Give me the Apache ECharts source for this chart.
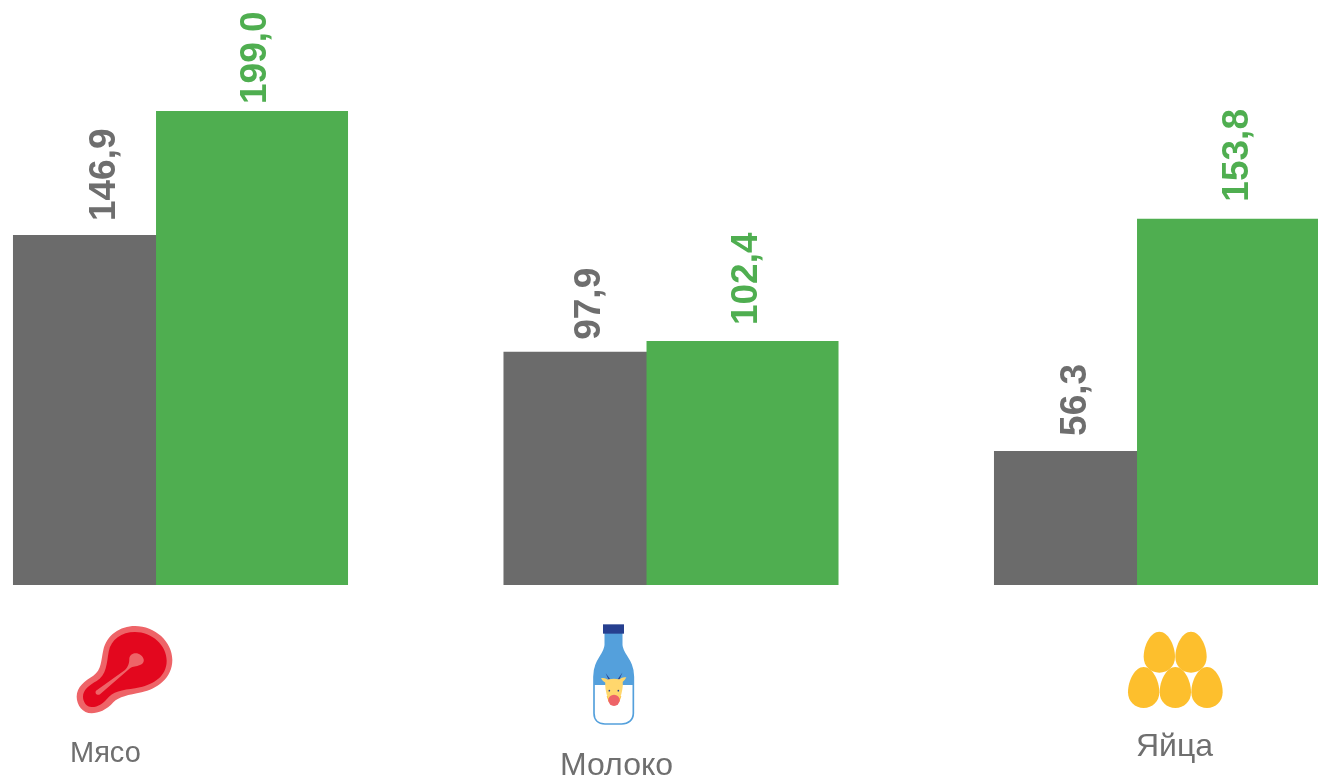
<!DOCTYPE html>
<html><head><meta charset="utf-8">
<style>html,body{margin:0;padding:0;background:#fff;overflow:hidden}#c{width:1318px;height:777px}</style>
<script src="https://cdn.jsdelivr.net/npm/echarts@6/dist/echarts.min.js"></script>
</head><body><div id="c"></div>
<script>
const categories = ['Мясо', 'Молоко', 'Яйца'];
const seriesGray = [146.9, 97.9, 56.3];
const seriesGreen = [199.0, 102.4, 153.8];
const GRAY = '#6b6b6b', GREEN = '#4fae50', TEXT = '#6f6f6f';
const FONT = '"Liberation Sans", Arial, sans-serif';
const catLabels = [
  {x: 70, y: 754, size: 29},
  {x: 560, y: 766, size: 32},
  {x: 1136, y: 747, size: 32}
];
const grayOffsets = [[14,-4.5],[12,-9.5],[15,-14.5]];
const greenOffsets = [[7,3.5],[16,4],[17,4.5]];
const fmt = p => p.value.toFixed(1).replace('.', ',');
const lbl = (color) => ({
  show: true, position: 'top', rotate: 90, align: 'left', verticalAlign: 'middle',
  distance: 0, formatter: fmt, color, fontFamily: FONT, fontWeight: 'bold', fontSize: 37
});
const eggs = [[208,185],[303,185],[161,291],[256,291],[351,291]];
const EGG = 'M0 0C26 0 47 40 47 76C47 104 26 123 0 123C-26 123 -47 104 -47 76C-47 40 -26 0 0 0Z';
let shapeCount = 0;
function path(d, style, extra){
  const name = 'iconShape' + (shapeCount++);
  echarts.graphic.registerShape(name, echarts.graphic.extendPath(d, {}));
  return Object.assign({type:name, style}, extra || {});
}
const graphics = [
  {type:'group', x:50, y:570, scaleX:1/3, scaleY:1/3, silent:true, children:[
    path('M255 168C315 168 367 215 367 270C367 325 320 357 275 367C235 375 207 380 190 397C170 420 145 430 125 430C98 430 80 405 80 380C80 350 105 332 130 317C155 300 153 270 160 240C170 195 210 168 255 168Z',{fill:'#ee6468'}),
    path('M255 186C305 186 350 225 350 272C350 320 310 342 270 352C230 360 197 360 177 380C160 400 145 411 125 411C110 411 99 396 99 380C99 360 118 345 140 333C170 315 170 280 176 245C183 208 215 186 255 186Z',{fill:'#e3071e'}),
    path('M238 265C240 250 260 245 272 255C285 265 285 280 270 285C258 290 250 288 240 295L150 373C143 378 133 370 138 362L225 300C235 290 238 280 238 265Z',{fill:'#ee6468'})
  ]},
  {type:'group', x:540, y:570, scaleX:1/3, scaleY:1/3, silent:true, children:[
    path('M196 191L245 191L245 225C247 255 280 270 280 320L280 430C280 450 265 462 245 462L195 462C175 462 162 450 162 430L162 320C162 270 194 255 196 225Z',{fill:'#fff',stroke:'#54a0dc',lineWidth:5}),
    path('M196 191L245 191L245 225C247 255 280 270 280 320L280 345L162 345L162 320C162 270 194 255 196 225Z',{fill:'#54a0dc'}),
    path('M189 163L252 163L252 191L189 191Z',{fill:'#263f8f'}),
    path('M197 310L214 332L208 334Z',{fill:'#263f8f'}),
    path('M247 308L236 334L230 332Z',{fill:'#263f8f'}),
    path('M183 325C192 322 200 326 206 332L200 340C194 338 188 334 183 325Z',{fill:'#ffd76d'}),
    path('M259 322C250 320 242 324 236 330L242 339C248 337 254 332 259 322Z',{fill:'#ffd76d'}),
    path('M200 378L244 378L238 396L206 396Z',{fill:'#fdbb30'}),
    path('M196 334C205 324 238 324 248 334C250 350 246 368 240 385L204 385C198 370 194 350 196 334Z',{fill:'#ffd76d'}),
    {type:'circle', shape:{cx:222,cy:391,r:17}, style:{fill:'#ee6468'}},
    {type:'circle', shape:{cx:208,cy:362,r:2.5}, style:{fill:'#263f8f'}},
    {type:'circle', shape:{cx:235,cy:362,r:2.5}, style:{fill:'#263f8f'}}
  ]},
  {type:'group', x:1090, y:570, scaleX:1/3, scaleY:1/3, silent:true,
    children: eggs.map(e => path(EGG, {fill:'#fdbf2d'}, {x:e[0], y:e[1]}))
  }
].concat(categories.map((t,i) => ({
  type:'text', x:catLabels[i].x, y:catLabels[i].y, silent:true,
  style:{text:t, fill:TEXT, font:catLabels[i].size+'px '+FONT, textAlign:'left', textVerticalAlign:'middle'}
})));
const chart = echarts.init(document.getElementById('c'), null, {renderer:'canvas'});
chart.setOption({
  animation:false, backgroundColor:'#fff',
  grid:{left:180.5, width:981, top:13.3, height:571.7},
  xAxis:{type:'category', data:categories, show:false, boundaryGap:false},
  yAxis:{type:'value', min:0, max:240, show:false},
  series:[
    {name:'gray', type:'bar', clip:false, data:seriesGray.map((v,i)=>({value:v, label:{offset:grayOffsets[i]}})), barWidth:192, barGap:'-25.5%', itemStyle:{color:GRAY}, label:lbl('#6e6e6e'), z:2},
    {name:'green', type:'bar', clip:false, data:seriesGreen.map((v,i)=>({value:v, label:{offset:greenOffsets[i]}})), barWidth:192, itemStyle:{color:GREEN}, label:lbl(GREEN), z:3}
  ],
  graphic:{elements:graphics}
});
</script></body></html>
